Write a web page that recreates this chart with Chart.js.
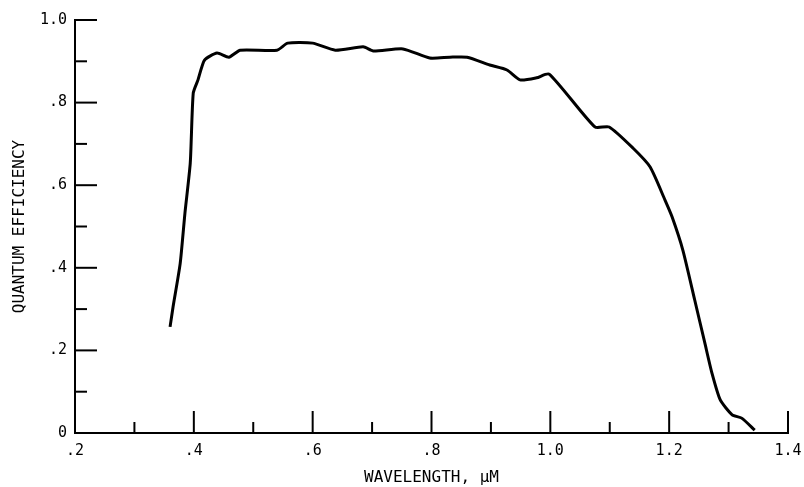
<!DOCTYPE html>
<html>
<head>
<meta charset="utf-8">
<script src="https://cdn.jsdelivr.net/npm/chart.js@4.4.1/dist/chart.umd.min.js"></script>
<style>
  html, body { margin: 0; padding: 0; background: #fff; }
  #wrap { width: 804px; height: 487px; }
</style>
</head>
<body>
<div id="wrap"><canvas id="grafico"></canvas></div>
<script>
// comprimento de onda (um) e eficiencia quantica
const comprimentos = [0.360, 0.365, 0.377, 0.385, 0.394, 0.399, 0.407, 0.418, 0.439, 0.459, 0.478, 0.540, 0.558, 0.600, 0.638, 0.685, 0.702, 0.752, 0.797, 0.831, 0.860, 0.898, 0.927, 0.949, 0.977, 0.998, 1.075, 1.099, 1.139, 1.168, 1.193, 1.205, 1.223, 1.243, 1.260, 1.272, 1.286, 1.306, 1.322, 1.344];
const eficiencia  = [0.257, 0.305, 0.410, 0.532, 0.654, 0.823, 0.855, 0.903, 0.920, 0.910, 0.927, 0.927, 0.944, 0.944, 0.927, 0.935, 0.925, 0.930, 0.908, 0.910, 0.910, 0.891, 0.879, 0.855, 0.860, 0.869, 0.741, 0.741, 0.690, 0.644, 0.564, 0.523, 0.443, 0.322, 0.218, 0.145, 0.080, 0.044, 0.036, 0.007];

const ticksX = [0.3, 0.4, 0.5, 0.6, 0.7, 0.8, 0.9, 1.0, 1.1, 1.2, 1.3, 1.4];
const ticksY = [0.1, 0.2, 0.3, 0.4, 0.5, 0.6, 0.7, 0.8, 0.9, 1.0];

const fonte = "'DejaVu Sans Mono', monospace";

function rotulo(v) {
  const r = Math.round(v * 10);
  if (r % 2 !== 0) return "";
  if (r === 0) return "0";
  if (r < 10) return "." + r;
  return (r / 10).toFixed(1);
}

// marcas para dentro, maiores nos valores com rotulo
const marcasInternas = {
  id: "marcasInternas",
  afterDraw(chart) {
    const { ctx, scales: { x, y } } = chart;
    ctx.save();
    ctx.strokeStyle = "#000";
    ctx.lineWidth = 2;
    ticksY.forEach(v => {
      const py = y.getPixelForValue(v);
      const len = Math.round(v * 10) % 2 === 0 ? 22 : 12;
      ctx.beginPath();
      ctx.moveTo(x.left, py);
      ctx.lineTo(x.left + len, py);
      ctx.stroke();
    });
    ticksX.forEach(v => {
      const px = x.getPixelForValue(v);
      const len = Math.round(v * 10) % 2 === 0 ? 22 : 11;
      ctx.beginPath();
      ctx.moveTo(px, y.bottom);
      ctx.lineTo(px, y.bottom - len);
      ctx.stroke();
    });
    ctx.restore();
  }
};

new Chart(document.getElementById("grafico"), {
  type: "line",
  data: {
    datasets: [{
      data: comprimentos.map((c, i) => ({ x: c, y: eficiencia[i] })),
      borderColor: "#000",
      borderWidth: 3,
      pointRadius: 0,
      tension: 0.2,
      fill: false
    }]
  },
  options: {
    responsive: true,
    maintainAspectRatio: false,
    animation: false,
    layout: { padding: { top: 20, right: 16, left: 0, bottom: 0 } },
    plugins: { legend: { display: false }, tooltip: { enabled: false } },
    scales: {
      x: {
        type: "linear",
        min: 0.2, max: 1.4,
        grid: { display: false },
        border: { display: true, color: "#000", width: 2 },
        ticks: {
          stepSize: 0.1, color: "#000", padding: 1, maxRotation: 0, autoSkip: false,
          font: { family: fonte, size: 15 },
          callback: v => rotulo(v)
        },
        title: { display: true, text: "WAVELENGTH, µM", color: "#000", font: { family: fonte, size: 16 }, padding: { top: 0, bottom: 0 } },
        afterFit: s => { s.height = 54; }
      },
      y: {
        min: 0, max: 1.0,
        grid: { display: false },
        border: { display: true, color: "#000", width: 2 },
        ticks: {
          stepSize: 0.1, color: "#000", padding: 0, autoSkip: false,
          font: { family: fonte, size: 15 },
          callback: v => rotulo(v)
        },
        title: { display: true, text: "QUANTUM EFFICIENCY", color: "#000", font: { family: fonte, size: 16 }, padding: { top: 10, bottom: 0 } },
        afterFit: s => { s.width = 75; }
      }
    }
  },
  plugins: [marcasInternas]
});
</script>
</body>
</html>
